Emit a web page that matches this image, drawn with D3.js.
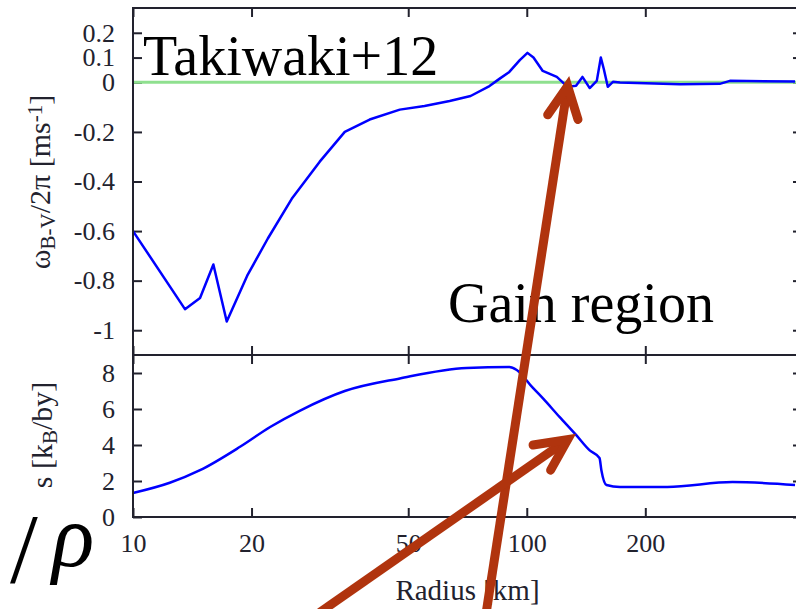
<!DOCTYPE html>
<html>
<head>
<meta charset="utf-8">
<script src="https://cdn.jsdelivr.net/npm/d3@7"></script>
<style>
  body { margin: 0; background: #fff; }
  text { font-family: "Liberation Serif", "Times New Roman", serif; }
</style>
</head>
<body>
<svg id="chart"></svg>
<script>
// top panel: Brunt-Vaisala frequency vs radius
const radiusOmega = [10, 13.55, 14.8, 16.0, 17.3, 19.5, 22.0, 25.3, 29.8, 34.5, 39.9, 47.6, 55, 63.7, 72, 80.4,
  85.2, 90.3, 96, 100.4, 104, 109.8, 119.2, 127, 133.4, 138.5, 144.5, 150.6, 154.2, 156.9, 160.6, 165.5,
  172.5, 245, 309, 328, 480];
const omega = [-0.6, -0.915, -0.87, -0.735, -0.965, -0.78, -0.63, -0.47, -0.32, -0.2, -0.15, -0.11, -0.095, -0.075, -0.055, -0.015,
  0.014, 0.042, 0.09, 0.119, 0.1, 0.046, 0.022, -0.018, -0.014, 0.022, -0.023, 0.006, 0.1, 0.054, -0.018, 0.002,
  -0.001, -0.008, -0.006, 0.006, 0.003];

// bottom panel: entropy vs radius
const radiusEntropy = [10, 12.4, 14.8, 18.7, 22.3, 26.5, 34.5, 47.6, 70.3, 90.3, 94.3, 103.4, 109.8, 121.1,
  133.4, 144.5, 153.0, 154.7, 159.4, 172.5, 227.5, 333, 480];
const entropy = [1.33, 1.9, 2.6, 3.9, 5.0, 5.9, 7.0, 7.7, 8.28, 8.33, 8.17, 7.2, 6.6, 5.56,
  4.56, 3.7, 3.28, 2.6, 1.78, 1.67, 1.67, 1.94, 1.78];

const xTicks = [10, 20, 50, 100, 200];
const omegaTicks = [0.2, 0.1, 0, -0.2, -0.4, -0.6, -0.8, -1];
const entropyTicks = [0, 2, 4, 6, 8];

const width = 796, height = 609;
const padLeft = 133, padRight = 802, padTop = 8, padMid = 355, padBottom = 517;
const ink = "#22222e";

const svg = d3.select("#chart").attr("width", width).attr("height", height);

const x = d3.scaleLog().domain([10, 500]).range([padLeft, padRight]);
const yTop = d3.scaleLinear().domain([-1.1, 0.3]).range([padMid, padTop]);
const yBot = d3.scaleLinear().domain([0, 9]).range([padBottom, padMid]);

// tick marks pointing inward on all sides
function ticks(g) {
  g.attr("font-family", "'Liberation Serif', serif").attr("font-size", 26);
  g.select(".domain").remove();
  g.selectAll("line").attr("stroke", ink).attr("stroke-width", 2);
  g.selectAll("text").attr("fill", ink);
}
const plain = d => String(d);

svg.append("g").attr("transform", `translate(${padLeft},0)`)
  .call(d3.axisLeft(yTop).tickValues(omegaTicks).tickSize(-9).tickPadding(18).tickFormat(plain))
  .call(ticks);
svg.append("g").attr("transform", `translate(${padRight},0)`)
  .call(d3.axisRight(yTop).tickValues(omegaTicks).tickSize(-9).tickFormat(""))
  .call(ticks);
svg.append("g").attr("transform", `translate(${padLeft},0)`)
  .call(d3.axisLeft(yBot).tickValues(entropyTicks).tickSize(-9).tickPadding(18).tickFormat(plain))
  .call(ticks);
svg.append("g").attr("transform", `translate(${padRight},0)`)
  .call(d3.axisRight(yBot).tickValues(entropyTicks).tickSize(-9).tickFormat(""))
  .call(ticks);

for (const [yy, dir] of [[padTop, "top"], [padMid, "bottom"], [padMid, "top"]]) {
  const ax = dir === "top" ? d3.axisTop(x) : d3.axisBottom(x);
  svg.append("g").attr("transform", `translate(0,${yy})`)
    .call(ax.tickValues(xTicks).tickSize(-9).tickFormat(""))
    .call(ticks);
}
svg.append("g").attr("transform", `translate(0,${padBottom})`)
  .call(d3.axisBottom(x).tickValues(xTicks).tickSize(-9).tickPadding(17).tickFormat(plain))
  .call(ticks);

// zero line
svg.append("line")
  .attr("x1", padLeft).attr("x2", padRight)
  .attr("y1", yTop(0)).attr("y2", yTop(0))
  .attr("stroke", "#8fe08f").attr("stroke-width", 3);

const lineTop = d3.line().x(d => x(d[0])).y(d => yTop(d[1]));
svg.append("path")
  .attr("d", lineTop(d3.zip(radiusOmega, omega)))
  .attr("fill", "none").attr("stroke", "#0000ff").attr("stroke-width", 2.5)
  .attr("stroke-linejoin", "round");

const lineBot = d3.line().x(d => x(d[0])).y(d => yBot(d[1])).curve(d3.curveMonotoneX);
svg.append("path")
  .attr("d", lineBot(d3.zip(radiusEntropy, entropy)))
  .attr("fill", "none").attr("stroke", "#0000ff").attr("stroke-width", 2.5)
  .attr("stroke-linejoin", "round");

// panel frames
for (const [y0, y1] of [[padTop, padMid], [padMid, padBottom]]) {
  svg.append("rect")
    .attr("x", padLeft).attr("y", y0)
    .attr("width", padRight - padLeft).attr("height", y1 - y0)
    .attr("fill", "none").attr("stroke", ink).attr("stroke-width", 2);
}

// axis labels
const lab1 = svg.append("text")
  .attr("transform", "translate(50,182) rotate(-90)")
  .attr("text-anchor", "middle").attr("fill", ink).style("font-size", "30px");
lab1.append("tspan").text("ω");
lab1.append("tspan").attr("baseline-shift", "-25%").style("font-size", "21px").text("B-V");
lab1.append("tspan").text("/2π [ms");
lab1.append("tspan").attr("baseline-shift", "40%").style("font-size", "21px").text("-1");
lab1.append("tspan").text("]");

const lab2 = svg.append("text")
  .attr("transform", "translate(52,435) rotate(-90)")
  .attr("text-anchor", "middle").attr("fill", ink).style("font-size", "30px");
lab2.append("tspan").text("s [k");
lab2.append("tspan").attr("baseline-shift", "-25%").style("font-size", "21px").text("B");
lab2.append("tspan").text("/by]");

svg.append("text")
  .attr("x", (padLeft + padRight) / 2).attr("y", 600)
  .attr("text-anchor", "middle").attr("fill", ink).style("font-size", "29px")
  .text("Radius [km]");

// annotations
svg.append("text").attr("x", 143).attr("y", 75)
  .style("font-size", "56px").attr("fill", "#000").text("Takiwaki+12");
svg.append("text").attr("x", 448).attr("y", 322)
  .style("font-size", "56px").attr("fill", "#000").text("Gain region");
svg.append("text").attr("x", 10).attr("y", 582)
  .style("font-size", "100px").attr("fill", "#000").text("/");
svg.append("text").attr("x", 52).attr("y", 566)
  .style("font-size", "88px").style("font-style", "italic").attr("fill", "#000").text("ρ");

// arrows: tips in data space, tails below the frame
const arrows = [
  { tip: [x(127), yTop(-0.015)], tail: [x(78), yBot(-6)] },
  { tip: [x(127), yBot(4.3)], tail: [x(29.8), yBot(-5.3)] }
];
const red = "#b0340e";
for (const a of arrows) {
  svg.append("line")
    .attr("x1", a.tail[0]).attr("y1", a.tail[1])
    .attr("x2", a.tip[0]).attr("y2", a.tip[1])
    .attr("stroke", red).attr("stroke-width", 9);
  const ang = Math.atan2(a.tail[1] - a.tip[1], a.tail[0] - a.tip[0]);
  const L = 35, spread = 26 * Math.PI / 180;
  const w1 = [a.tip[0] + L * Math.cos(ang - spread), a.tip[1] + L * Math.sin(ang - spread)];
  const w2 = [a.tip[0] + L * Math.cos(ang + spread), a.tip[1] + L * Math.sin(ang + spread)];
  svg.append("path")
    .attr("d", d3.line()([w1, a.tip, w2]))
    .attr("fill", "none").attr("stroke", red).attr("stroke-width", 9)
    .attr("stroke-linecap", "round").attr("stroke-linejoin", "miter");
}
</script>
</body>
</html>
